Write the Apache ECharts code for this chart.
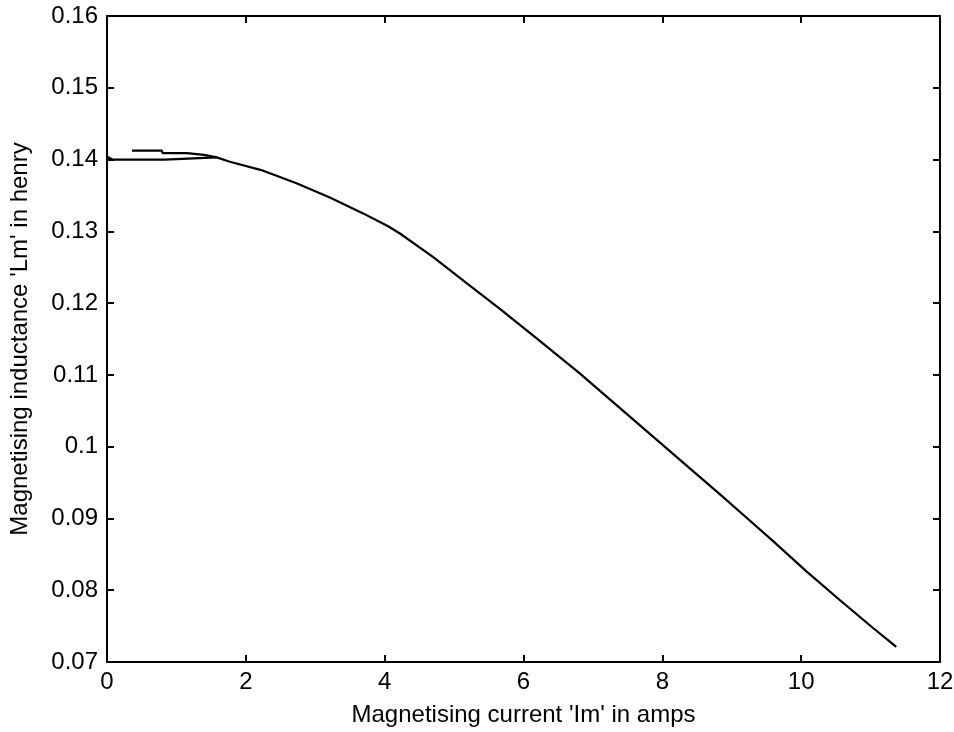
<!DOCTYPE html>
<html>
<head>
<meta charset="utf-8">
<script src="https://cdn.jsdelivr.net/npm/echarts@6/dist/echarts.min.js"></script>
<style>
html,body{margin:0;padding:0;background:#fff;}
#chart{width:954px;height:732px;}
</style>
</head>
<body>
<div id="chart"></div>
<script>
// Upper starting branch, then main descending curve (current in A, inductance in H)
const upperX = [0.36, 0.79, 0.80, 1.15, 1.16, 1.40, 1.58];
const upperY = [0.14125, 0.14125, 0.1409, 0.1409, 0.14065, 0.14065, 0.1403];
const mainX = [1.77, 2.25, 2.73, 3.21, 3.69, 4.05, 4.22, 4.70, 5.18, 5.66, 6.19, 6.81, 7.29, 7.77, 8.25, 8.86, 9.12, 9.60, 10.08, 10.56, 11.04, 11.37];
const mainY = [0.1397, 0.13845, 0.1367, 0.1347, 0.1325, 0.1307, 0.1297, 0.1264, 0.1228, 0.1192, 0.1151, 0.1102, 0.1062, 0.1022, 0.0982, 0.0931, 0.0909, 0.0868, 0.0826, 0.0786, 0.0747, 0.0721];
// Lower starting branch that joins the main curve
const lowerX = [0, 0.08, 0.83, 0.84, 1.58];
const lowerY = [0.1404, 0.1400, 0.1400, 0.14025, 0.1403];

const xTicks = [0, 2, 4, 6, 8, 10, 12];
const yTicks = [0.07, 0.08, 0.09, 0.1, 0.11, 0.12, 0.13, 0.14, 0.15, 0.16];
const xTitle = "Magnetising current 'Im' in amps";
const yTitle = "Magnetising inductance 'Lm' in henry";

const zip = (xs, ys) => xs.map((x, i) => [x, ys[i]]);
const seriesA = zip(upperX.concat(mainX), upperY.concat(mainY));
const seriesB = zip(lowerX, lowerY);

const FONT = 'Liberation Sans';
const FS = 24;
const axisLine = {show: true, onZero: false, lineStyle: {color: '#000', width: 2}};
const tick = {show: true, inside: true, length: 7, lineStyle: {color: '#000', width: 2}};

const chart = echarts.init(document.getElementById('chart'), null, {renderer: 'canvas'});
chart.setOption({
  animation: false,
  backgroundColor: '#fff',
  grid: {left: 107, right: 14, top: 16, bottom: 70, containLabel: false, outerBoundsMode: 'none'},
  xAxis: [
    {
      type: 'value', min: xTicks[0], max: xTicks[xTicks.length - 1], interval: 2,
      position: 'bottom',
      axisLine: axisLine, axisTick: tick, splitLine: {show: false},
      axisLabel: {color: '#000', fontFamily: FONT, fontSize: FS, margin: 8},
      name: xTitle, nameLocation: 'middle', nameGap: 41,
      nameTextStyle: {color: '#000', fontFamily: FONT, fontSize: FS}
    },
    {
      type: 'value', min: xTicks[0], max: xTicks[xTicks.length - 1], interval: 2,
      position: 'top',
      axisLine: axisLine, axisTick: tick, splitLine: {show: false},
      axisLabel: {show: false}
    }
  ],
  yAxis: [
    {
      type: 'value', min: yTicks[0], max: yTicks[yTicks.length - 1], interval: 0.01,
      position: 'left',
      axisLine: axisLine, axisTick: tick, splitLine: {show: false},
      axisLabel: {color: '#000', fontFamily: FONT, fontSize: FS, margin: 9,
        formatter: v => String(+v.toFixed(2))},
      name: yTitle, nameLocation: 'middle', nameGap: 75,
      nameTextStyle: {color: '#000', fontFamily: FONT, fontSize: FS}
    },
    {
      type: 'value', min: yTicks[0], max: yTicks[yTicks.length - 1], interval: 0.01,
      position: 'right',
      axisLine: axisLine, axisTick: tick, splitLine: {show: false},
      axisLabel: {show: false}
    }
  ],
  series: [
    {type: 'line', data: seriesA, xAxisIndex: 0, yAxisIndex: 0, showSymbol: false, symbol: 'none',
      lineStyle: {color: '#000', width: 2.2}},
    {type: 'line', data: seriesB, xAxisIndex: 0, yAxisIndex: 0, showSymbol: false, symbol: 'none',
      lineStyle: {color: '#000', width: 2.2}}
  ]
});
</script>
</body>
</html>
